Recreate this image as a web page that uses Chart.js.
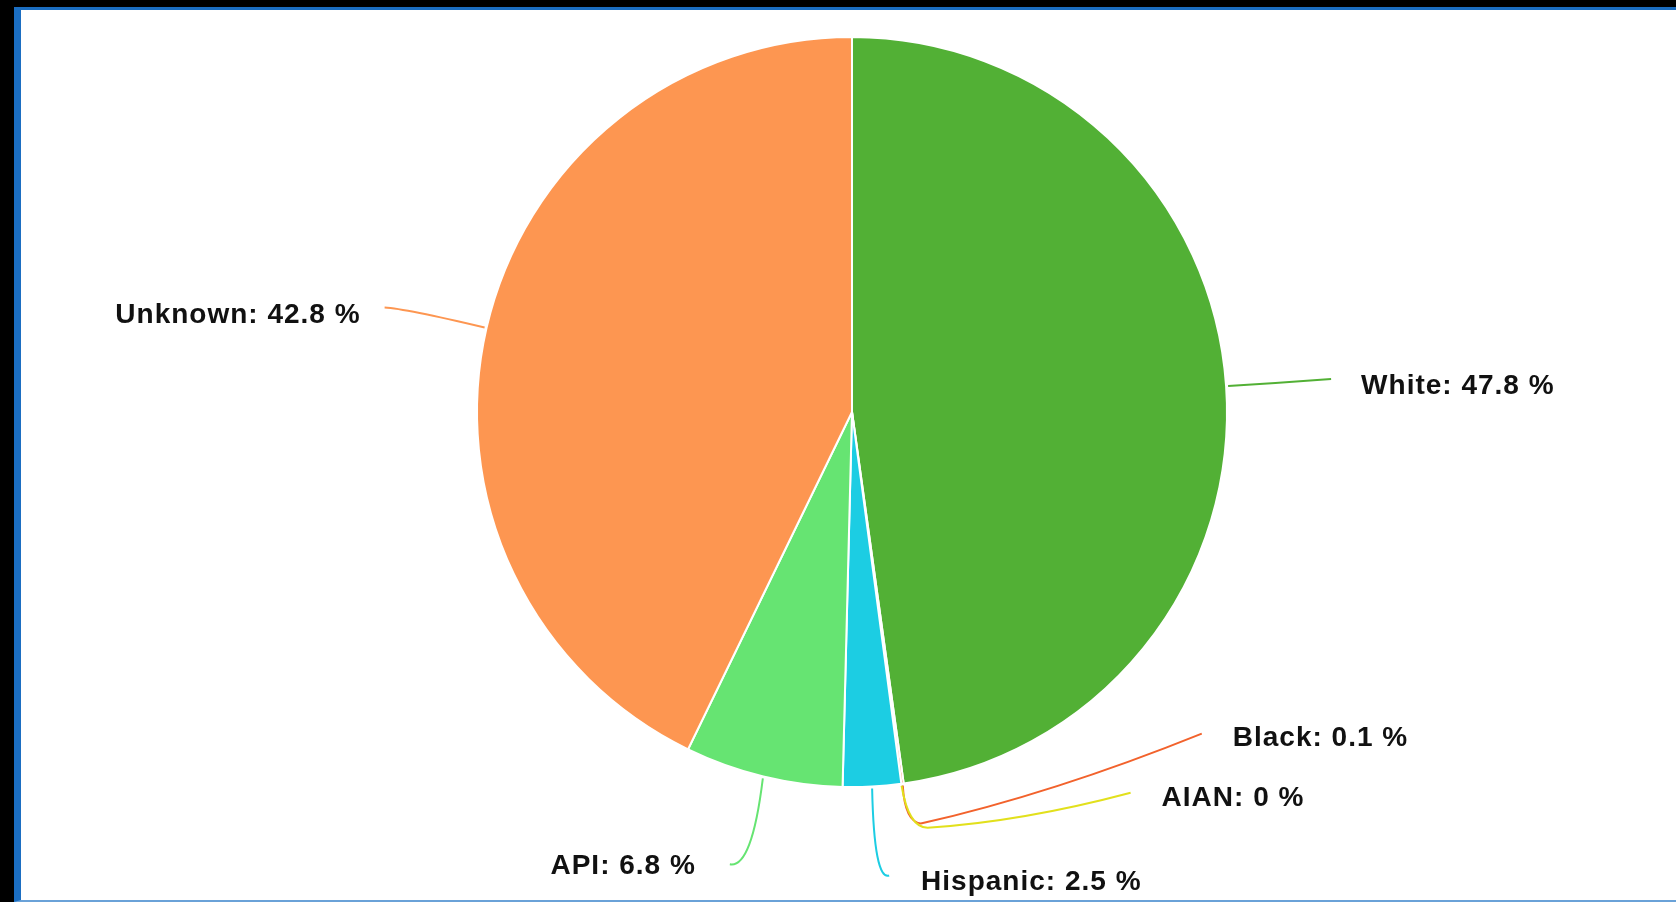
<!DOCTYPE html>
<html>
<head>
<meta charset="utf-8">
<script src="https://cdn.jsdelivr.net/npm/chart.js@4"></script>
<style>
  html, body { margin: 0; padding: 0; background: #000; overflow: hidden; }
  #panel {
    position: absolute; left: 14px; top: 7px;
    width: 1700px; height: 890px;
    background: #fff;
    border-left: 7px solid #1b6ec2;
    border-top: 3px solid #1b6ec2;
    border-bottom: 2px solid #6aa2d8;
  }
  #chart { position: absolute; left: 0; top: 0; }
</style>
</head>
<body>
<div id="panel"><canvas id="chart" width="1655" height="889"></canvas></div>
<script>
// data
var groups = ['White', 'Black', 'AIAN', 'Hispanic', 'API', 'Unknown'];
var shares = [47.8, 0.1, 0, 2.5, 6.8, 42.8];
var sliceColors = ['#52b035', '#f2622c', '#e2e01c', '#1ccde3', '#66e472', '#fd9651'];

// leader line segments (quadratic: ctrl x,y, end x,y) relative to the rim anchor
var labelLayout = [
    { segs: [[50, -3, 103, -7]], side: 'left', gap: 30, ty: 7 },                      // White
    { segs: [[2, 36, 18, 38], [150, 8, 299, -52]], side: 'left', gap: 31, ty: 5 },    // Black
    { segs: [[7, 42, 26, 42], [120, 36, 229, 7]], side: 'left', gap: 31, ty: 6 },     // AIAN
    { segs: [[2, 92, 17, 87]], side: 'left', gap: 32, ty: 7 },                        // Hispanic
    { segs: [[-11, 90, -33, 86]], side: 'right', gap: 34, ty: 2 },                    // API
    { segs: [[-80, -19, -100, -20]], side: 'right', gap: 24, ty: 8 }                  // Unknown
];

var outLabels = {
    id: 'outLabels',
    afterDraw: function (chart) {
        var ctx = chart.ctx;
        var meta = chart.getDatasetMeta(0);
        ctx.save();
        meta.data.forEach(function (arc, i) {
            var p = arc.getProps(['x', 'y', 'startAngle', 'endAngle', 'outerRadius'], true);
            var mid = (p.startAngle + p.endAngle) / 2;
            var r = p.outerRadius + 2;
            var ax = p.x + Math.cos(mid) * r;
            var ay = p.y + Math.sin(mid) * r;
            var l = labelLayout[i];

            ctx.beginPath();
            ctx.moveTo(ax, ay);
            l.segs.forEach(function (s) {
                ctx.quadraticCurveTo(ax + s[0], ay + s[1], ax + s[2], ay + s[3]);
            });
            ctx.strokeStyle = sliceColors[i];
            ctx.lineWidth = 2;
            ctx.lineJoin = 'round';
            ctx.stroke();

            var last = l.segs[l.segs.length - 1];
            ctx.font = 'bold 28px "Liberation Sans", Arial, sans-serif';
            ctx.letterSpacing = '1px';
            ctx.fillStyle = '#111';
            ctx.textBaseline = 'middle';
            ctx.textAlign = l.side;
            var tx = ax + last[2] + (l.side === 'left' ? l.gap : -l.gap);
            ctx.fillText(groups[i] + ': ' + shares[i] + ' %', tx, ay + last[3] + l.ty);
        });
        ctx.restore();
    }
};

var ctx = document.getElementById('chart').getContext('2d');
var pieChart = new Chart(ctx, {
    type: 'pie',
    data: {
        labels: groups,
        datasets: [{
            data: shares,
            backgroundColor: sliceColors,
            borderColor: '#ffffff',
            borderWidth: 2,
            hoverOffset: 0,
            offset: 0
        }]
    },
    options: {
        responsive: false,
        animation: false,
        layout: {
            padding: { left: 455, right: 448, top: 26, bottom: 111 }
        },
        plugins: {
            legend: { display: false },
            tooltip: { enabled: false }
        }
    },
    plugins: [outLabels]
});
</script>
</body>
</html>
